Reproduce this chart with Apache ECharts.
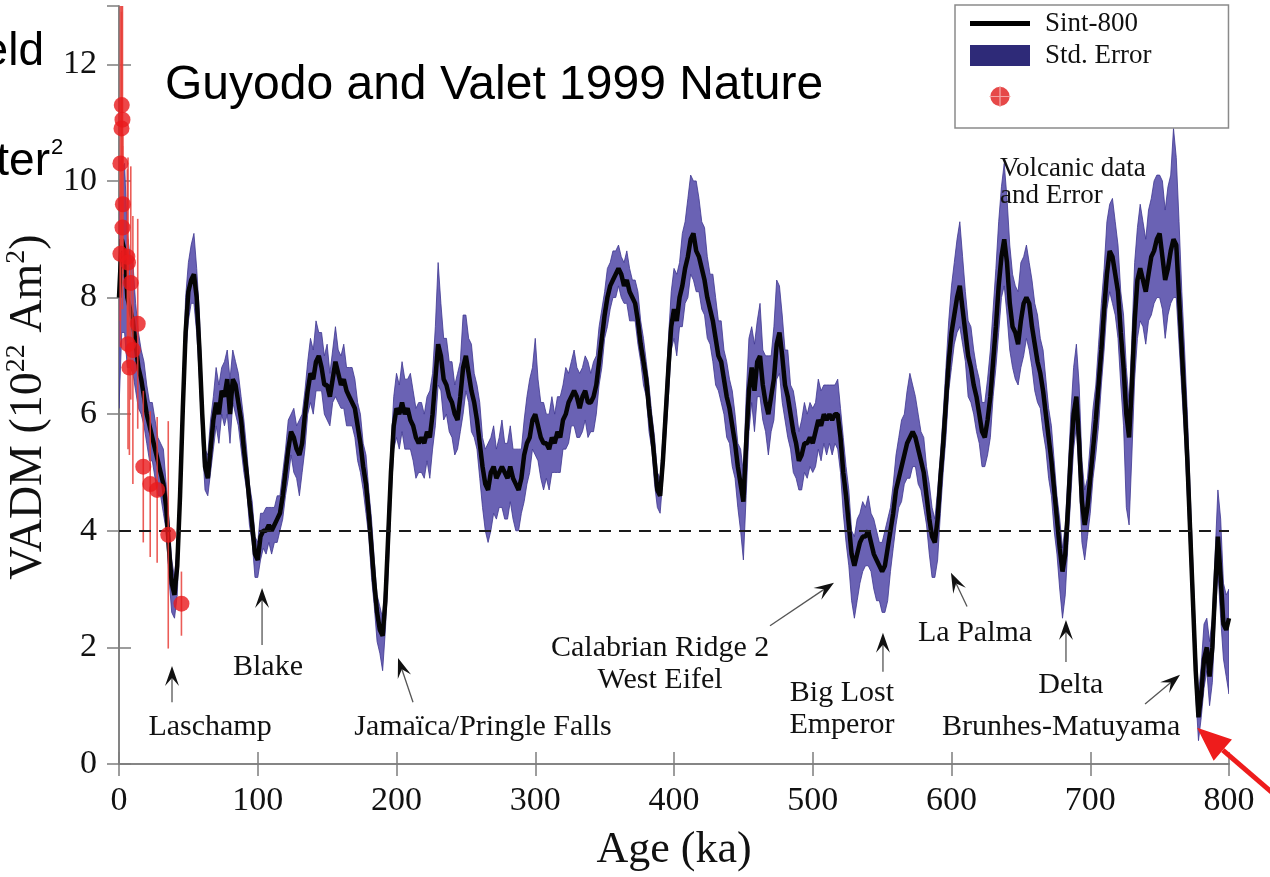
<!DOCTYPE html>
<html>
<head>
<meta charset="utf-8">
<title>Sint-800 VADM</title>
<script src="https://cdn.jsdelivr.net/npm/echarts@6/dist/echarts.min.js"></script>
<style>
html, body { margin: 0; padding: 0; background: #fff; }
#main { width: 1270px; height: 877px; }
</style>
</head>
<body>
<div id="main"></div>
<script>
// Sint-800 stack, one value every 2 ka from 0 to 800 ka (10^22 Am^2)
var ageStep = 2;
var vadm = [
  8.0, 9.0, 8.8, 8.0, 7.8, 7.6, 7.2, 6.8, 6.6, 6.3,
  6.0, 5.8, 5.6, 5.4, 5.2, 5.0, 4.8, 4.4, 3.7, 3.1,
  2.9, 3.4, 4.6, 6.1, 7.4, 8.1, 8.3, 8.4, 8.0, 7.1,
  6.0, 5.1, 4.9, 5.4, 5.9, 6.2, 6.0, 6.4, 6.3, 6.6,
  6.0, 6.6, 6.5, 6.2, 5.9, 5.4, 5.0, 4.5, 4.1, 3.6,
  3.5, 3.9, 4.0, 4.0, 4.1, 4.0, 4.1, 4.2, 4.3, 4.6,
  5.0, 5.4, 5.7, 5.6, 5.4, 5.3, 5.5, 6.0, 6.4, 6.7,
  6.6, 6.9, 7.0, 6.8, 6.5, 6.5, 6.3, 6.6, 6.9, 6.7,
  6.5, 6.6, 6.4, 6.3, 6.2, 6.1, 5.8, 5.5, 5.1, 4.8,
  4.3, 3.7, 3.1, 2.6, 2.3, 2.2, 2.8, 3.9, 5.0, 5.8,
  6.1, 6.0, 6.2, 6.0, 6.1, 5.9, 5.8, 5.6, 5.5, 5.6,
  5.5, 5.7, 5.6, 6.0, 6.6, 7.2, 7.0, 6.6, 6.5, 6.3,
  6.2, 6.0, 5.9, 6.3, 6.8, 7.0, 6.7, 6.4, 6.2, 5.9,
  5.5, 5.1, 4.8, 4.7, 5.0, 5.1, 4.9, 5.0, 5.1, 5.0,
  4.9, 5.1, 4.9, 4.8, 4.7, 4.9, 5.3, 5.5, 5.6, 5.9,
  6.0, 5.8, 5.6, 5.5, 5.5, 5.4, 5.6, 5.5, 5.7, 5.6,
  5.9, 6.0, 6.2, 6.3, 6.4, 6.3, 6.1, 6.3, 6.4, 6.2,
  6.2, 6.3, 6.5, 6.9, 7.3, 7.7, 8.0, 8.2, 8.3, 8.4,
  8.5, 8.4, 8.2, 8.3, 8.1, 8.0, 7.9, 7.6, 7.2, 6.9,
  6.6, 6.1, 5.7, 5.2, 4.7, 4.6, 5.2, 6.0, 6.8, 7.5,
  7.8, 7.6, 8.0, 8.2, 8.5, 8.7, 9.0, 9.1, 8.8, 8.7,
  8.5, 8.3, 8.0, 7.8, 7.6, 7.3, 7.0, 6.9, 6.6, 6.3,
  6.1, 5.8, 5.5, 5.1, 4.8, 4.5, 5.5, 6.4, 6.8, 6.4,
  6.9, 7.0, 6.5, 6.2, 6.0, 6.3, 6.6, 7.2, 7.4, 7.0,
  6.5, 6.3, 6.0, 5.7, 5.5, 5.2, 5.3, 5.5, 5.5, 5.6,
  5.5, 5.7, 5.9, 5.8, 6.0, 5.9, 6.0, 5.9, 6.0, 6.0,
  5.6, 5.0, 4.6, 4.1, 3.6, 3.4, 3.6, 3.8, 3.9, 3.9,
  4.0, 3.8, 3.6, 3.5, 3.4, 3.3, 3.4, 3.7, 4.0, 4.3,
  4.7, 4.9, 5.1, 5.3, 5.5, 5.6, 5.7, 5.6, 5.4, 5.2,
  5.0, 4.6, 4.2, 3.9, 3.8, 4.2, 4.9, 5.5, 6.2, 6.9,
  7.4, 7.7, 8.0, 8.2, 7.8, 7.4, 7.0, 6.8, 6.5, 6.3,
  6.0, 5.7, 5.6, 5.9, 6.3, 6.9, 7.5, 8.2, 8.7, 9.0,
  8.6, 7.9, 7.5, 7.4, 7.2, 7.6, 7.9, 8.0, 7.9, 7.5,
  7.2, 6.9, 6.7, 6.4, 6.0, 5.6, 5.2, 4.7, 4.2, 3.7,
  3.3, 3.6, 4.4, 5.3, 6.0, 6.3, 5.5, 4.5, 4.1, 4.4,
  4.9, 5.4, 5.9, 6.5, 7.1, 7.8, 8.4, 8.8, 8.7, 8.4,
  8.1, 7.4, 6.8, 6.0, 5.6, 6.5, 7.6, 8.3, 8.5, 8.3,
  8.1, 8.4, 8.7, 8.8, 9.0, 9.1, 8.7, 8.3, 8.5, 8.8,
  9.0, 8.9, 8.0, 7.1, 6.2, 5.2, 4.0, 2.8, 1.6, 0.8,
  1.2, 1.8, 2.0, 1.5, 2.0, 3.0, 3.9, 3.2, 2.4, 2.3,
  2.5
];
// std. error, distance above the curve
var errUp = [
  1.4, 1.2, 1.5, 1.1, 0.9, 1.0, 0.7, 0.6, 0.5, 0.6,
  0.5, 0.4, 0.6, 0.5, 0.4, 0.5, 0.6, 0.4, 0.5, 0.4,
  0.3, 0.4, 0.5, 0.5, 0.6, 0.5, 0.6, 0.7, 0.5, 0.6,
  0.4, 0.3, 0.4, 0.5, 0.4, 0.6, 0.5, 0.4, 0.6, 0.5,
  0.6, 0.5, 0.4, 0.5, 0.4, 0.5, 0.4, 0.3, 0.4, 0.3,
  0.3, 0.4, 0.3, 0.4, 0.3, 0.4, 0.3, 0.4, 0.3, 0.4,
  0.4, 0.5, 0.3, 0.5, 0.4, 0.6, 0.5, 0.4, 0.5, 0.6,
  0.5, 0.7, 0.4, 0.6, 0.5, 0.7, 0.4, 0.5, 0.6, 0.4,
  0.5, 0.6, 0.4, 0.5, 0.6, 0.5, 0.4, 0.5, 0.4, 0.5,
  0.4, 0.5, 0.4, 0.3, 0.4, 0.3, 0.4, 0.5, 0.4, 0.5,
  0.6, 0.5, 0.7, 0.6, 0.5, 0.8, 0.6, 0.5, 0.7, 0.6,
  0.5, 0.6, 0.8, 0.7, 0.9, 1.4, 0.9, 0.7, 0.8, 0.6,
  0.7, 0.5, 0.8, 0.6, 0.9, 0.7, 0.6, 0.8, 0.5, 0.6,
  0.7, 0.5, 0.6, 0.8, 0.6, 0.7, 0.5, 0.6, 0.8, 0.5,
  0.6, 0.7, 0.5, 0.6, 0.7, 0.5, 0.6, 0.8, 1.0, 0.9,
  1.3, 0.8, 0.6, 0.7, 0.5, 0.6, 0.7, 0.5, 0.6, 0.7,
  0.6, 0.8, 0.5, 0.6, 0.7, 0.5, 0.6, 0.5, 0.6, 0.7,
  0.5, 0.6, 0.5, 0.6, 0.5, 0.4, 0.5, 0.4, 0.5, 0.4,
  0.4, 0.3, 0.4, 0.5, 0.4, 0.3, 0.4, 0.5, 0.4, 0.4,
  0.3, 0.4, 0.3, 0.4, 0.3, 0.3, 0.4, 0.4, 0.5, 0.6,
  0.7, 0.8, 0.6, 0.9, 0.8, 1.0, 1.1, 0.9, 1.2, 1.0,
  0.8, 0.9, 0.7, 0.6, 0.8, 0.7, 0.6, 0.7, 0.5, 0.6,
  0.5, 0.6, 0.5, 0.4, 0.6, 0.5, 0.8, 0.9, 0.7, 0.8,
  0.7, 0.9, 0.6, 0.8, 1.0, 0.7, 0.9, 1.1, 0.8, 0.7,
  0.6, 0.8, 0.5, 0.7, 0.6, 0.5, 0.6, 0.7, 0.5, 0.6,
  0.6, 0.5, 0.7, 0.6, 0.5, 0.6, 0.5, 0.6, 0.5, 0.6,
  0.5, 0.6, 0.5, 0.6, 0.4, 0.5, 0.6, 0.5, 0.6, 0.5,
  0.6, 0.5, 0.6, 0.5, 0.4, 0.5, 0.6, 0.5, 0.4, 0.5,
  0.6, 0.7, 0.8, 0.7, 0.9, 1.1, 0.8, 0.7, 0.6, 0.5,
  0.6, 0.5, 0.6, 0.5, 0.4, 0.5, 0.4, 0.5, 0.6, 0.7,
  0.8, 0.9, 1.0, 1.1, 0.9, 0.7, 0.6, 0.7, 0.6, 0.5,
  0.6, 0.5, 0.6, 0.7, 0.8, 0.9, 1.0, 1.1, 1.2, 1.3,
  1.1, 1.0, 0.9, 0.8, 0.9, 1.0, 0.8, 0.9, 0.7, 0.8,
  0.7, 0.8, 0.6, 0.7, 0.6, 0.5, 0.6, 0.5, 0.4, 0.5,
  0.4, 0.5, 0.6, 0.7, 0.8, 0.9, 1.0, 0.7, 0.6, 0.5,
  0.6, 0.7, 0.6, 0.7, 0.8, 0.7, 0.9, 0.8, 1.0, 0.9,
  0.8, 0.7, 0.9, 0.8, 0.6, 0.8, 1.0, 0.9, 1.1, 1.0,
  0.9, 1.1, 1.0, 1.2, 1.1, 1.0, 1.3, 1.2, 1.4, 1.3,
  1.9, 1.5, 1.3, 1.0, 0.9, 0.8, 0.7, 0.6, 0.5, 0.4,
  0.5, 0.6, 0.5, 0.6, 0.5, 0.6, 0.8, 1.0, 0.7, 0.6,
  0.5
];
// std. error, distance below the curve
var errDn = [
  1.9, 1.6, 1.4, 1.2, 1.0, 0.9, 0.8, 0.7, 0.6, 0.5,
  0.5, 0.6, 0.4, 0.5, 0.6, 0.4, 0.5, 0.4, 0.5, 0.5,
  0.4, 0.5, 0.4, 0.5, 0.4, 0.5, 0.4, 0.5, 0.6, 0.5,
  0.5, 0.4, 0.3, 0.4, 0.5, 0.4, 0.5, 0.4, 0.5, 0.6,
  0.5, 0.4, 0.5, 0.4, 0.5, 0.4, 0.3, 0.4, 0.3, 0.4,
  0.3, 0.4, 0.3, 0.4, 0.3, 0.4, 0.3, 0.4, 0.3, 0.4,
  0.4, 0.5, 0.4, 0.6, 0.5, 0.7, 0.5, 0.6, 0.4, 0.5,
  0.6, 0.5, 0.6, 0.4, 0.5, 0.6, 0.5, 0.4, 0.6, 0.5,
  0.4, 0.5, 0.6, 0.5, 0.4, 0.5, 0.6, 0.5, 0.4, 0.5,
  0.4, 0.5, 0.4, 0.5, 0.4, 0.6, 0.5, 0.6, 0.5, 0.4,
  0.5, 0.6, 0.5, 0.6, 0.7, 0.5, 0.6, 0.7, 0.5, 0.6,
  0.6, 0.5, 0.7, 0.6, 0.8, 0.7, 0.6, 0.7, 0.5, 0.6,
  0.6, 0.7, 0.5, 0.6, 0.8, 0.6, 0.5, 0.7, 0.6, 0.5,
  0.6, 0.7, 0.8, 0.9, 1.0, 0.8, 0.7, 0.6, 0.7, 0.8,
  0.7, 0.6, 0.7, 0.8, 0.7, 0.6, 0.8, 0.7, 0.6, 0.5,
  0.7, 0.6, 0.7, 0.8, 0.6, 0.7, 0.6, 0.5, 0.7, 0.6,
  0.5, 0.6, 0.7, 0.5, 0.6, 0.7, 0.5, 0.6, 0.5, 0.6,
  0.5, 0.6, 0.5, 0.4, 0.5, 0.4, 0.5, 0.4, 0.3, 0.4,
  0.3, 0.4, 0.3, 0.4, 0.5, 0.4, 0.3, 0.4, 0.3, 0.4,
  0.3, 0.4, 0.3, 0.4, 0.3, 0.3, 0.3, 0.4, 0.5, 0.4,
  0.5, 0.6, 0.5, 0.7, 0.6, 0.7, 0.6, 0.8, 0.7, 0.6,
  0.7, 0.6, 0.7, 0.6, 0.7, 0.8, 0.6, 0.7, 0.6, 0.7,
  0.6, 0.7, 0.6, 0.7, 0.8, 1.0, 0.9, 0.7, 0.6, 0.7,
  0.6, 0.7, 0.6, 0.5, 0.7, 0.6, 0.7, 0.6, 0.7, 0.8,
  0.6, 0.7, 0.6, 0.7, 0.6, 0.5, 0.6, 0.5, 0.6, 0.5,
  0.5, 0.6, 0.5, 0.6, 0.5, 0.6, 0.5, 0.6, 0.5, 0.6,
  0.6, 0.7, 0.8, 0.7, 0.8, 0.9, 0.8, 0.7, 0.6, 0.5,
  0.6, 0.5, 0.6, 0.7, 0.6, 0.7, 0.8, 0.9, 0.7, 0.6,
  0.6, 0.5, 0.6, 0.5, 0.6, 0.7, 0.6, 0.5, 0.6, 0.5,
  0.6, 0.5, 0.6, 0.7, 0.6, 0.7, 0.6, 0.5, 0.6, 0.5,
  0.6, 0.5, 0.6, 0.7, 0.6, 0.5, 0.7, 0.6, 0.5, 0.6,
  0.5, 0.6, 0.5, 0.6, 0.7, 0.6, 0.7, 0.8, 0.7, 0.8,
  0.9, 0.8, 0.7, 0.8, 0.7, 0.8, 0.9, 0.7, 0.8, 0.7,
  0.8, 0.7, 0.6, 0.7, 0.6, 0.7, 0.6, 0.7, 0.6, 0.7,
  0.8, 0.7, 0.6, 0.7, 0.6, 0.5, 0.6, 0.7, 0.6, 0.5,
  0.6, 0.5, 0.6, 0.7, 0.6, 0.7, 0.6, 0.7, 0.8, 0.7,
  0.8, 0.9, 1.0, 1.6, 1.5, 1.2, 1.0, 1.0, 0.9, 0.8,
  0.9, 0.8, 1.0, 0.9, 1.0, 1.1, 0.9, 1.0, 0.8, 0.9,
  1.0, 0.9, 0.8, 0.7, 0.6, 0.6, 0.5, 0.5, 0.4, 0.4,
  0.4, 0.5, 0.4, 0.5, 0.6, 0.5, 0.6, 0.7, 0.6, 0.8,
  1.3
];

// volcanic data (age ka, VADM, error)
var volcAge = [2.0, 2.5, 1.8, 1.0, 2.8, 2.5, 1.0, 6.0, 6.5, 8.5, 13.5, 6.5, 10.0, 7.5, 17.5, 22.5, 27.5, 35.5, 45.0];
var volcVadm = [11.3, 11.05, 10.9, 10.3, 9.6, 9.2, 8.75, 8.7, 8.6, 8.25, 7.55, 7.2, 7.1, 6.8, 5.1, 4.8, 4.7, 3.93, 2.75];
var volcErr = [2.5, 2.2, 2.0, 2.7, 1.2, 1.4, 1.6, 1.5, 1.8, 2.0, 1.8, 1.8, 2.3, 1.5, 1.3, 1.25, 1.25, 1.95, 0.55];

var xTicks = [0, 100, 200, 300, 400, 500, 600, 700, 800];
var yTicks = [0, 2, 4, 6, 8, 10, 12];

// excursion labels: text position and arrow tail/tip, all in (ka, VADM)
var annoText = ['Laschamp', 'Blake', 'Jamaïca/Pringle Falls', 'Calabrian Ridge 2\nWest Eifel',
                'Big Lost\nEmperor', 'La Palma', 'Delta', 'Brunhes-Matuyama'];
var annoAt   = [[65.6, 0.64], [107.4, 1.67], [262.3, 0.64], [390, 1.72],
                [521, 0.94], [617, 2.25], [686, 1.36], [679, 0.64]];
var arrowTail = [[38.2, 1.06], [103.1, 2.04], [211.9, 1.06], [469.2, 2.37],
                 [550.6, 1.58], [611.2, 2.7], [682.5, 1.75], [739.5, 1.03]];
var arrowTip  = [[38.2, 1.68], [103.1, 3.02], [201.1, 1.82], [515.3, 3.11],
                 [550.6, 2.25], [599.6, 3.28], [682.5, 2.47], [764.7, 1.53]];
var redArrowTip = [777, 0.62];

var SERIF = '"Liberation Serif", "DejaVu Serif", serif';
var SANS = '"Liberation Sans", Arial, sans-serif';

var lineData = [];
for (var i = 0; i < vadm.length; i++) {
  lineData.push([i * ageStep, vadm[i]]);
}
var volcData = volcAge.map(function (a, k) { return [a, volcVadm[k], volcErr[k]]; });

var axisGray = '#7d7d7d';

var myChart = echarts.init(document.getElementById('main'));

var option = {
  animation: false,
  backgroundColor: '#fff',
  grid: { left: 119, right: 41, top: 6, bottom: 113, outerBoundsMode: 'none' },
  legend: {
    left: 955, top: 5, orient: 'vertical',
    padding: [5, 77, 9, 15],
    itemWidth: 60, itemHeight: 21, itemGap: 5,
    borderColor: '#8a8a8a', borderWidth: 1.5, borderRadius: 0,
    backgroundColor: '#fff',
    selectedMode: false,
    textStyle: { fontFamily: SERIF, fontSize: 27, color: '#111', padding: [0, 0, 0, 10] },
    formatter: function (n) { return n === 'Volcanic' ? ' ' : n; },
    data: [
      { name: 'Sint-800', icon: 'path://M0,0H60V5H0Z', itemStyle: { color: '#000' } },
      { name: 'Std. Error', icon: 'rect', itemStyle: { color: '#2e2a78' } },
      { name: 'Volcanic',
        icon: 'path://M1,12.5a11.5,11.5 0 1,0 23,0a11.5,11.5 0 1,0 -23,0Z M12.1,0H12.9V25H12.1Z M0,12.1H25V12.9H0Z',
        itemStyle: { color: '#e01a1a' }, textStyle: { lineHeight: 45 } }
    ]
  },
  xAxis: [{
    type: 'value', min: 0, max: 800, interval: 100,
    name: 'Age (ka)', nameLocation: 'middle', nameGap: 64,
    nameTextStyle: { fontFamily: SERIF, fontSize: 44, color: '#111' },
    axisLine: { lineStyle: { color: axisGray, width: 1.5 } },
    axisTick: { inside: true, length: 12, lineStyle: { color: axisGray, width: 1.5 } },
    axisLabel: { margin: 20, fontFamily: SERIF, fontSize: 34, color: '#111',
      formatter: function (v) { return xTicks.indexOf(v) >= 0 ? String(v) : ''; } },
    splitLine: { show: false }
  }, {
    type: 'value', position: 'top', min: 0, max: 800, interval: 100,
    axisLine: { lineStyle: { color: axisGray, width: 1.5 } },
    axisTick: { inside: true, length: 12, lineStyle: { color: axisGray, width: 1.5 } },
    axisLabel: { show: false },
    splitLine: { show: false }
  }],
  yAxis: [{
    type: 'value', min: 0, max: 13, interval: 2,
    name: '{b|VADM (10}{s|22}{b| Am}{s|2}{b|)}',
    nameLocation: 'middle', nameGap: 50, nameRotate: 90,
    nameTextStyle: {
      padding: [0, 44, 0, 0],
      rich: {
        b: { fontFamily: SERIF, fontSize: 46, color: '#111', lineHeight: 52 },
        s: { fontFamily: SERIF, fontSize: 28, color: '#111', lineHeight: 26, verticalAlign: 'top' }
      }
    },
    axisLine: { lineStyle: { color: axisGray, width: 1.5 } },
    axisTick: { inside: true, length: 12, lineStyle: { color: axisGray, width: 1.5 } },
    axisLabel: { margin: 22, fontFamily: SERIF, fontSize: 34, color: '#111', showMaxLabel: false,
      formatter: function (v) { return yTicks.indexOf(v) >= 0 ? String(v) : ''; } },
    splitLine: { show: false }
  }, {
    type: 'value', position: 'right', min: 0, max: 13, interval: 2,
    axisLine: { lineStyle: { color: axisGray, width: 1.5 } },
    axisTick: { inside: true, length: 12, lineStyle: { color: axisGray, width: 1.5 } },
    axisLabel: { show: false },
    splitLine: { show: false }
  }],
  series: [
    {
      // std. error envelope drawn as one polygon through the axis scales
      name: 'Std. Error', type: 'custom', data: [[0]], clip: true, silent: true, z: 2,
      renderItem: function (params, api) {
        var pts = [], k;
        for (k = 0; k < vadm.length; k++) {
          pts.push(api.coord([k * ageStep, vadm[k] + errUp[k]]));
        }
        for (k = vadm.length - 1; k >= 0; k--) {
          pts.push(api.coord([k * ageStep, vadm[k] - errDn[k]]));
        }
        return {
          type: 'polygon',
          shape: { points: pts },
          style: { fill: '#6a62b4', stroke: '#3d3690', lineWidth: 0.8 }
        };
      }
    },
    {
      name: 'Sint-800', type: 'line', data: lineData,
      symbol: 'none', silent: true, z: 3,
      lineStyle: { width: 4.5, color: '#050505' },
      markLine: {
        silent: true, symbol: ['none', 'none'], label: { show: false },
        lineStyle: { color: '#1a1a1a', type: [12, 8], width: 2 },
        data: [{ yAxis: 4 }]
      }
    },
    {
      name: 'Volcanic-err', type: 'custom', data: volcData, clip: true, silent: true, z: 4,
      renderItem: function (params, api) {
        var x = api.value(0), y = api.value(1), e = api.value(2);
        var p1 = api.coord([x, y + e]);
        var p2 = api.coord([x, y - e]);
        return {
          type: 'line',
          shape: { x1: p1[0], y1: p1[1], x2: p2[0], y2: p2[1] },
          style: { stroke: '#e8403a', lineWidth: 1.6, opacity: 0.85 }
        };
      }
    },
    {
      name: 'Volcanic', type: 'scatter', data: volcData.map(function (d) { return [d[0], d[1]]; }),
      symbolSize: 16, silent: true, z: 5,
      itemStyle: { color: '#e8191b' }
    }
  ]
};

myChart.setOption(option);

function toPx(p) {
  return myChart.convertToPixel({ xAxisIndex: 0, yAxisIndex: 0 }, p);
}

// arrow = thin shaft + dart shaped head
function arrowEls(tail, tip, color, shaftColor, shaftW, headL, headW, notch) {
  var dx = tip[0] - tail[0], dy = tip[1] - tail[1];
  var len = Math.sqrt(dx * dx + dy * dy);
  var ux = dx / len, uy = dy / len, nx = -uy, ny = ux;
  var bx = tip[0] - ux * headL, by = tip[1] - uy * headL;
  var mx = tip[0] - ux * headL * notch, my = tip[1] - uy * headL * notch;
  return [{
    type: 'line', z: 50,
    shape: { x1: tail[0], y1: tail[1], x2: mx, y2: my },
    style: { stroke: shaftColor, lineWidth: shaftW }
  }, {
    type: 'polygon', z: 51,
    shape: { points: [tip, [bx + nx * headW / 2, by + ny * headW / 2], [mx, my], [bx - nx * headW / 2, by - ny * headW / 2]] },
    style: { fill: color }
  }];
}

var els = [];
annoText.forEach(function (t, k) {
  var p = toPx(annoAt[k]);
  els.push({
    type: 'text', x: p[0], y: p[1], z: 50,
    style: { text: t, font: '30px ' + SERIF, fill: '#111', textAlign: 'center', textVerticalAlign: 'middle', lineHeight: 32 }
  });
  els = els.concat(arrowEls(toPx(arrowTail[k]), toPx(arrowTip[k]), '#111', '#555', 1.3, 20, 14, 0.6));
});

var pv = toPx([635, 9.97]);
els.push({
  type: 'text', x: pv[0], y: pv[1], z: 50,
  style: { text: 'Volcanic data\nand Error', font: '27px ' + SERIF, fill: '#111', textAlign: 'left', textVerticalAlign: 'middle', lineHeight: 27 }
});

// slide overlays
els.push({
  type: 'text', x: 165, y: 86, z: 60,
  style: { text: 'Guyodo and Valet 1999 Nature', font: '48px ' + SANS, fill: '#000', textAlign: 'left', textVerticalAlign: 'middle' }
});
els.push({
  type: 'text', x: 44, y: 52, z: 60,
  style: { text: 'field', font: '46px ' + SANS, fill: '#000', textAlign: 'right', textVerticalAlign: 'middle' }
});
els.push({
  type: 'text', x: 50, y: 162, z: 60,
  style: { text: 'meter', font: '46px ' + SANS, fill: '#000', textAlign: 'right', textVerticalAlign: 'middle' }
});
els.push({
  type: 'text', x: 51, y: 148, z: 60,
  style: { text: '2', font: '22px ' + SANS, fill: '#000', textAlign: 'left', textVerticalAlign: 'middle' }
});

var rt = toPx(redArrowTip);
els = els.concat(arrowEls([rt[0] + 95, rt[1] + 82], rt, '#ee1c1c', '#ee1c1c', 5, 34, 28, 1));

myChart.setOption({ graphic: { elements: els } });

onresize = myChart.resize;
</script>
</body>
</html>
